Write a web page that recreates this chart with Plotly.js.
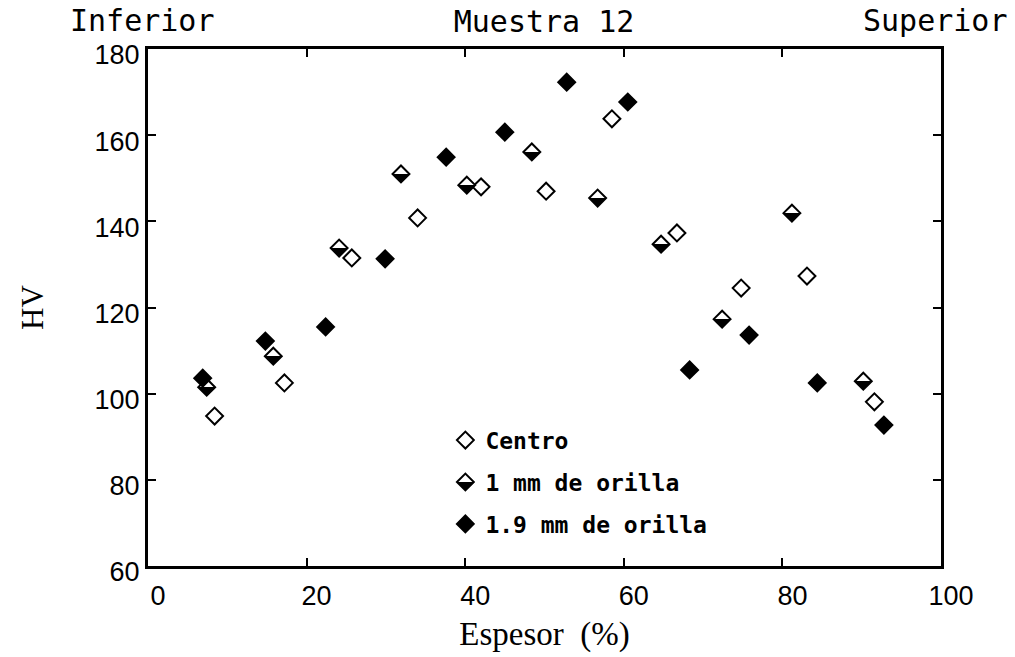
<!DOCTYPE html>
<html>
<head>
<meta charset="utf-8">
<script src="https://cdn.plot.ly/plotly-3.0.1.min.js"></script>
<style>html,body{margin:0;padding:0;background:#fff;}</style>
</head>
<body>
<div id="chart" style="width:1015px;height:657px;"></div>
<script>
// Series data
const centroX = [8.4, 17.2, 25.7, 34.0, 42.0, 50.2, 58.5, 66.7, 74.8, 83.1, 91.6];
const centroY = [94.8, 102.5, 131.5, 140.8, 148.0, 147.0, 163.8, 137.3, 124.5, 127.3, 98.1];
const mm1X = [7.4, 15.8, 24.1, 31.9, 40.2, 48.4, 56.7, 64.7, 72.4, 81.2, 90.2];
const mm1Y = [101.5, 108.7, 133.8, 151.0, 148.4, 156.1, 145.4, 134.7, 117.3, 141.9, 102.9];
const mm19X = [6.9, 14.8, 22.4, 29.9, 37.6, 45.0, 52.8, 60.5, 68.3, 75.8, 84.4, 92.8];
const mm19Y = [103.6, 112.2, 115.5, 131.3, 154.9, 160.7, 172.3, 167.7, 105.5, 113.6, 102.5, 92.7];
const seriesNames = ["Centro", "1 mm de orilla", "1.9 mm de orilla"];
const xTicks = [0, 20, 40, 60, 80, 100];
const yTicks = [60, 80, 100, 120, 140, 160, 180];

const mk = 13;
const traces = [
  {x: centroX, y: centroY, name: seriesNames[0], mode: "markers", type: "scatter", legendgroup: "a",
   marker: {symbol: "diamond", size: mk, color: "white", line: {color: "black", width: 2}}},
  {x: mm1X, y: mm1Y, name: seriesNames[1], mode: "markers", type: "scatter", legendgroup: "b",
   marker: {symbol: "diamond", size: mk, color: "white", gradient: {type: "vertical", color: "black"}, line: {color: "black", width: 2}}},
  {x: mm19X, y: mm19Y, name: seriesNames[2], mode: "markers", type: "scatter", legendgroup: "c",
   marker: {symbol: "diamond", size: mk, color: "black", line: {color: "black", width: 2}}}
];

const axisCommon = {
  showgrid: false, zeroline: false, showline: true, linecolor: "black", linewidth: 3,
  mirror: "ticks", ticks: "inside", ticklen: 8, tickwidth: 2, tickcolor: "black"
};

const layout = {
  width: 1015, height: 657,
  margin: {l: 148, r: 74, t: 49, b: 91},
  paper_bgcolor: "white", plot_bgcolor: "white",
  showlegend: true,
  title: {text: "Muestra 12", x: 0.536, xanchor: "center", y: 0.968, yanchor: "middle",
          font: {family: "DejaVu Sans Mono", size: 30, color: "black"}},
  xaxis: Object.assign({}, axisCommon, {
    range: [0, 100], tickvals: xTicks, ticktext: xTicks.map(String), ticklabelshift: 10, ticklabelstandoff: 4,
    tickfont: {family: "Liberation Sans", size: 27, color: "black"},
    title: {text: "Espesor&nbsp;&nbsp;(%)", standoff: 12, font: {family: "Liberation Serif", size: 33, color: "black"}}
  }),
  yaxis: Object.assign({}, axisCommon, {
    range: [60, 180], tickvals: yTicks, ticktext: yTicks.map(String), ticklabelshift: 6,
    tickfont: {family: "Liberation Sans", size: 27, color: "black"},
    title: {text: "HV", standoff: 42, font: {family: "Liberation Serif", size: 31, color: "black"}}
  }),
  legend: {x: 0.375, y: 0.285, xanchor: "left", yanchor: "top", bgcolor: "rgba(0,0,0,0)",
           traceorder: "grouped", tracegroupgap: 9,
           font: {family: "DejaVu Sans Mono", size: 23, color: "black", weight: "bold"}},
  annotations: [
    {text: "Inferior", xref: "paper", yref: "paper", x: -0.101, y: 1.056, xanchor: "left", yanchor: "middle",
     showarrow: false, font: {family: "DejaVu Sans Mono", size: 30, color: "black"}},
    {text: "Superior", xref: "paper", yref: "paper", x: 1.087, y: 1.056, xanchor: "right", yanchor: "middle",
     showarrow: false, font: {family: "DejaVu Sans Mono", size: 30, color: "black"}}
  ]
};

function sharpenGradients(gd) {
  gd.querySelectorAll("linearGradient").forEach(function(g) {
    const stops = g.querySelectorAll("stop");
    if (stops.length !== 2) return;
    const s0 = stops[0], s1 = stops[1];
    const a = s0.cloneNode(true), b = s1.cloneNode(true);
    a.setAttribute("offset", "50%");
    b.setAttribute("offset", "50%");
    g.insertBefore(a, s1);
    g.insertBefore(b, s1);
  });
}

Plotly.newPlot("chart", traces, layout, {displayModeBar: false, staticPlot: true}).then(function(gd) {
  sharpenGradients(gd);
});
</script>
</body>
</html>
